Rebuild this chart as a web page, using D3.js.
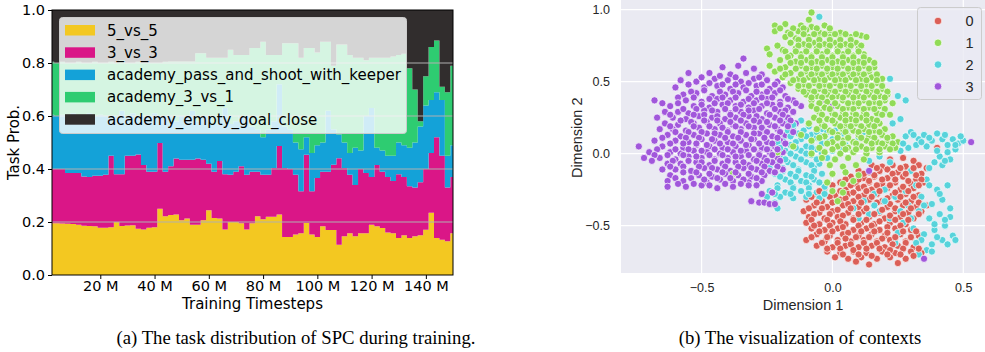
<!DOCTYPE html>
<html>
<head>
<meta charset="utf-8">
<script src="https://cdn.jsdelivr.net/npm/d3@7"></script>
<style>
  body { margin: 0; background: #fff; }
  svg { display: block; }
</style>
</head>
<body>
<svg id="fig" width="985" height="352"></svg>
<script>
// ---- (a) task distribution, one value every 2 M steps ----
const steps = d3.range(2, 151, 2);

const taskNames = ['5_vs_5', '3_vs_3', 'academy_pass_and_shoot_with_keeper',
  'academy_3_vs_1', 'academy_empty_goal_close'];
const taskColors = ['#f3c821', '#da1687', '#14a2d8', '#2ecc71', '#312d2d'];

const vs5 = [
  .195, .195, .194, .193, .192, .190, .186, .185, .184, .178,
  .178, .180, .200, .185, .187, .188, .175, .172, .178, .180,
  .250, .222, .226, .228, .207, .213, .190, .190, .207, .244,
  .215, .213, .172, .200, .200, .195, .172, .195, .222, .210,
  .220, .220, .228, .143, .143, .153, .158, .196, .153, .143,
  .184, .170, .170, .114, .146, .158, .146, .158, .158, .190,
  .184, .177, .160, .158, .140, .150, .140, .146, .150, .171,
  .235, .140, .133, .127, .158];
const vs3 = [
  .205, .205, .206, .192, .193, .195, .186, .185, .191, .197,
  .200, .270, .180, .195, .263, .262, .280, .243, .212, .210,
  .248, .168, .184, .212, .228, .222, .245, .250, .228, .176,
  .175, .217, .208, .178, .190, .215, .206, .195, .168, .168,
  .158, .184, .259, .261, .257, .225, .158, .258, .163, .223,
  .206, .220, .246, .327, .258, .220, .194, .242, .227, .180,
  .231, .213, .210, .197, .240, .220, .195, .184, .200, .229,
  .225, .380, .317, .203, .212];
const passShoot = [
  .205, .200, .205, .215, .225, .215, .228, .240, .225, .230,
  .222, .150, .220, .240, .150, .160, .145, .185, .210, .220,
  .102, .210, .190, .140, .165, .165, .185, .140, .165, .180,
  .180, .170, .250, .192, .190, .190, .222, .170, .160, .142,
  .172, .176, .233, .156, .150, .122, .159, .066, .144, .124,
  .110, .230, .134, .089, .096, .082, .140, .070, .215, .260,
  .065, .080, .080, .095, .120, .120, .145, .170, .210, .240,
  .200, .170, .210, .120, .120];
const threeVsOne = [
  .200, .200, .200, .200, .190, .205, .200, .190, .205, .195,
  .200, .205, .200, .190, .200, .190, .205, .200, .200, .190,
  .200, .205, .206, .226, .206, .206, .186, .257, .237, .220,
  .250, .220, .190, .280, .250, .230, .230, .297, .307, .360,
  .280, .250, .110, .315, .325, .375, .345, .337, .397, .350,
  .380, .260, .240, .340, .370, .370, .340, .350, .210, .190,
  .340, .350, .370, .375, .330, .345, .300, .200, .020, .110,
  .200, .195, .050, .240, .300];
const emptyGoal = [
  .195, .200, .195, .200, .200, .195, .200, .200, .195, .200,
  .200, .195, .200, .190, .200, .200, .195, .200, .200, .200,
  .200, .195, .194, .194, .194, .194, .194, .163, .163, .180,
  .180, .180, .180, .150, .170, .170, .170, .143, .143, .120,
  .170, .170, .170, .125, .125, .125, .180, .143, .143, .160,
  .120, .120, .210, .130, .130, .170, .180, .180, .190, .180,
  .180, .180, .180, .175, .170, .165, .220, .300, .420, .250,
  .140, .115, .290, .310, .210];

const probTicks = [0, 0.2, 0.4, 0.6, 0.8, 1.0];
const stepTicks = [20, 40, 60, 80, 100, 120, 140];

// ---- (b) context embedding, one list per cluster ----
const ctxNames = ['0', '1', '2', '3'];
const ctxColors = ['#db5f57', '#91db57', '#57d3db', '#a157db'];

const ctx0 = [
  [0.40,0.04],
  [0.22,-0.04],[0.27,-0.03],[0.31,-0.05],
  [0.15,-0.08],[0.19,-0.09],[0.23,-0.08],[0.28,-0.09],[0.33,-0.08],[0.36,-0.10],
  [0.10,-0.12],[0.14,-0.13],[0.18,-0.12],[0.25,-0.13],[0.30,-0.12],[0.34,-0.14],
  [0.07,-0.16],[0.12,-0.17],[0.16,-0.16],[0.21,-0.17],[0.27,-0.16],[0.32,-0.18],
  [0.03,-0.20],[0.09,-0.21],[0.14,-0.20],[0.19,-0.21],[0.24,-0.20],[0.30,-0.21],[0.35,-0.20],
  [-0.03,-0.24],[0.05,-0.25],[0.10,-0.24],[0.15,-0.25],[0.21,-0.24],[0.26,-0.25],[0.31,-0.24],
  [-0.06,-0.28],[0.01,-0.29],[0.06,-0.28],[0.12,-0.29],[0.17,-0.28],[0.23,-0.29],[0.28,-0.28],[0.33,-0.29],
  [-0.10,-0.32],[-0.04,-0.33],[0.03,-0.32],[0.08,-0.33],[0.14,-0.32],[0.19,-0.33],[0.25,-0.32],[0.30,-0.33],
  [-0.07,-0.36],[-0.02,-0.37],[0.04,-0.36],[0.10,-0.37],[0.16,-0.36],[0.21,-0.37],[0.27,-0.36],[0.32,-0.37],[0.36,-0.36],
  [-0.11,-0.40],[-0.05,-0.41],[0.00,-0.40],[0.06,-0.41],[0.12,-0.40],[0.18,-0.41],[0.24,-0.40],[0.29,-0.41],[0.34,-0.40],
  [-0.09,-0.44],[-0.03,-0.45],[0.02,-0.44],[0.08,-0.45],[0.14,-0.44],[0.20,-0.45],[0.26,-0.44],[0.31,-0.45],
  [-0.10,-0.48],[-0.05,-0.49],[0.00,-0.48],[0.05,-0.49],[0.11,-0.48],[0.16,-0.49],[0.22,-0.48],[0.28,-0.49],
  [-0.08,-0.52],[-0.03,-0.53],[0.02,-0.52],[0.08,-0.53],[0.13,-0.52],[0.18,-0.53],[0.24,-0.52],[0.30,-0.53],
  [-0.06,-0.56],[-0.01,-0.57],[0.04,-0.56],[0.10,-0.57],[0.15,-0.56],[0.20,-0.57],[0.26,-0.56],[0.33,-0.57],
  [-0.10,-0.60],[-0.03,-0.61],[0.02,-0.60],[0.07,-0.61],[0.12,-0.60],[0.17,-0.61],[0.22,-0.60],[0.28,-0.61],
  [-0.06,-0.64],[0.00,-0.65],[0.05,-0.64],[0.10,-0.65],[0.15,-0.64],[0.20,-0.65],[0.25,-0.64],[0.31,-0.65],
  [-0.02,-0.68],[0.03,-0.69],[0.08,-0.68],[0.13,-0.69],[0.19,-0.68],[0.24,-0.69],[0.30,-0.68],[0.34,-0.69],
  [0.01,-0.72],[0.06,-0.73],[0.11,-0.72],[0.17,-0.73],[0.22,-0.72],[0.28,-0.73],
  [0.09,-0.75],[0.14,-0.77],[0.25,-0.76],
  [0.17,-0.10],[0.21,-0.11],[0.26,-0.10],[0.31,-0.10],
  [0.12,-0.14],[0.16,-0.15],[0.23,-0.14],[0.28,-0.14],[0.32,-0.15],
  [0.05,-0.18],[0.10,-0.18],[0.14,-0.19],[0.19,-0.18],[0.24,-0.18],[0.29,-0.19],[0.34,-0.18],
  [0.00,-0.22],[0.07,-0.22],[0.12,-0.23],[0.17,-0.22],[0.22,-0.22],[0.27,-0.23],[0.33,-0.22],
  [-0.05,-0.26],[0.03,-0.26],[0.08,-0.27],[0.13,-0.26],[0.18,-0.26],[0.24,-0.27],[0.29,-0.26],
  [-0.08,-0.30],[-0.01,-0.30],[0.05,-0.31],[0.10,-0.30],[0.15,-0.30],[0.21,-0.31],[0.26,-0.30],[0.31,-0.30],
  [-0.06,-0.34],[0.00,-0.34],[0.06,-0.35],[0.11,-0.34],[0.17,-0.34],[0.22,-0.35],[0.28,-0.34],[0.33,-0.34],
  [-0.09,-0.38],[-0.04,-0.38],[0.02,-0.39],[0.07,-0.38],[0.13,-0.38],[0.19,-0.39],[0.24,-0.38],[0.30,-0.38],
  [-0.07,-0.42],[-0.01,-0.42],[0.04,-0.43],[0.10,-0.42],[0.16,-0.42],[0.22,-0.43],[0.27,-0.42],[0.33,-0.42],
  [-0.08,-0.46],[-0.02,-0.46],[0.03,-0.47],[0.08,-0.46],[0.13,-0.46],[0.18,-0.47],[0.24,-0.46],[0.29,-0.46],
  [-0.07,-0.50],[-0.01,-0.50],[0.04,-0.51],[0.10,-0.50],[0.15,-0.50],[0.21,-0.51],[0.26,-0.50],
  [-0.05,-0.54],[0.00,-0.54],[0.06,-0.55],[0.11,-0.54],[0.16,-0.54],[0.21,-0.55],[0.27,-0.54],[0.32,-0.54],
  [-0.08,-0.58],[-0.02,-0.58],[0.05,-0.59],[0.09,-0.58],[0.14,-0.58],[0.19,-0.59],[0.24,-0.58],[0.30,-0.58],
  [-0.04,-0.62],[0.02,-0.62],[0.07,-0.63],[0.12,-0.62],[0.17,-0.62],[0.23,-0.63],[0.28,-0.62],
  [-0.02,-0.66],[0.03,-0.66],[0.08,-0.67],[0.13,-0.66],[0.18,-0.66],[0.22,-0.67],[0.27,-0.66],[0.33,-0.66],
  [0.04,-0.70],[0.10,-0.70],[0.15,-0.71],[0.21,-0.70],[0.26,-0.70],[0.31,-0.71]
];
const ctx1 = [
  [-0.08,0.98],[-0.09,0.93],
  [-0.22,0.89],[-0.18,0.90],[-0.12,0.89],[-0.08,0.88],[-0.03,0.89],
  [-0.22,0.85],[-0.17,0.84],[-0.13,0.85],[-0.10,0.86],[-0.05,0.84],[-0.01,0.85],[0.03,0.84],
  [-0.18,0.81],[-0.14,0.80],[-0.09,0.81],[-0.05,0.80],[-0.01,0.81],[0.03,0.80],[0.07,0.81],[0.11,0.82],[0.13,0.81],
  [-0.16,0.77],[-0.11,0.76],[-0.07,0.77],[-0.03,0.76],[0.01,0.77],[0.05,0.76],[0.09,0.77],
  [-0.25,0.73],[-0.19,0.72],[-0.14,0.73],[-0.10,0.72],[-0.06,0.73],[-0.02,0.72],[0.02,0.73],[0.06,0.72],[0.10,0.73],
  [-0.24,0.69],[-0.16,0.68],[-0.12,0.69],[-0.08,0.68],[-0.04,0.69],[0.00,0.68],[0.04,0.69],[0.08,0.68],[0.12,0.69],
  [-0.20,0.65],[-0.14,0.64],[-0.10,0.65],[-0.06,0.64],[-0.02,0.65],[0.02,0.64],[0.06,0.65],[0.10,0.64],[0.14,0.65],
  [-0.24,0.61],[-0.18,0.60],[-0.12,0.61],[-0.08,0.60],[-0.04,0.61],[0.00,0.60],[0.04,0.61],[0.08,0.60],[0.12,0.61],[0.16,0.60],
  [-0.22,0.57],[-0.16,0.56],[-0.10,0.57],[-0.06,0.56],[-0.02,0.57],[0.02,0.56],[0.06,0.57],[0.10,0.56],[0.14,0.57],
  [-0.19,0.53],[-0.13,0.52],[-0.09,0.53],[-0.05,0.52],[-0.01,0.53],[0.03,0.52],[0.07,0.53],[0.11,0.52],[0.15,0.53],[0.19,0.52],
  [-0.16,0.49],[-0.11,0.48],[-0.07,0.49],[-0.03,0.48],[0.01,0.49],[0.05,0.48],[0.09,0.49],[0.13,0.48],[0.17,0.49],
  [-0.13,0.45],[-0.09,0.44],[-0.05,0.45],[-0.01,0.44],[0.03,0.45],[0.07,0.44],[0.11,0.45],[0.15,0.44],[0.19,0.45],
  [-0.10,0.41],[-0.06,0.40],[-0.02,0.41],[0.02,0.40],[0.06,0.41],[0.10,0.40],[0.14,0.41],[0.18,0.40],[0.21,0.41],
  [-0.08,0.37],[-0.02,0.36],[0.04,0.37],[0.08,0.36],[0.12,0.37],[0.16,0.36],[0.20,0.37],
  [-0.08,0.33],[-0.03,0.32],[0.02,0.33],[0.06,0.32],[0.10,0.33],[0.14,0.32],[0.18,0.33],
  [-0.05,0.29],[0.00,0.28],[0.04,0.29],[0.08,0.28],[0.12,0.29],[0.17,0.28],[0.22,0.27],
  [-0.07,0.25],[-0.02,0.24],[0.03,0.25],[0.07,0.24],[0.11,0.25],[0.15,0.24],
  [-0.09,0.21],[-0.04,0.20],[0.01,0.21],[0.05,0.20],[0.09,0.21],[0.14,0.20],[0.18,0.21],
  [-0.06,0.17],[-0.01,0.16],[0.04,0.17],[0.08,0.16],[0.12,0.17],[0.16,0.16],[0.20,0.17],
  [-0.12,0.13],[-0.03,0.12],[0.02,0.13],[0.06,0.12],[0.10,0.13],[0.14,0.12],[0.19,0.13],[0.23,0.12],
  [-0.08,0.09],[0.00,0.08],[0.04,0.09],[0.08,0.08],[0.13,0.09],[0.17,0.08],[0.21,0.09],[0.25,0.08],
  [-0.15,0.05],[-0.05,0.04],[0.02,0.05],[0.06,0.04],[0.11,0.05],[0.15,0.04],[0.20,0.05],[0.24,0.04],
  [-0.21,0.01],[-0.08,0.00],[-0.03,0.01],[0.03,0.00],[0.08,0.01],[0.13,0.00],[0.18,0.01],
  [-0.04,-0.03],[0.01,-0.04],[0.06,-0.03],[0.12,-0.04],
  [-0.01,-0.08],[0.04,-0.09],[0.09,-0.08],
  [0.00,-0.14],[0.05,-0.13],[0.10,-0.15],
  [-0.02,-0.20],[0.04,-0.21],[0.08,-0.19],
  [0.00,-0.26],[0.04,-0.27],[0.02,-0.33],[-0.38,-0.14],
  [-0.20,0.87],[-0.15,0.87],[-0.11,0.87],[-0.06,0.87],[-0.01,0.87],
  [-0.16,0.83],[-0.11,0.83],[-0.07,0.83],[-0.03,0.83],[0.01,0.83],[0.05,0.83],[0.09,0.83],
  [-0.13,0.79],[-0.09,0.79],[-0.05,0.79],[-0.01,0.79],[0.03,0.79],[0.07,0.79],
  [-0.21,0.75],[-0.13,0.75],[-0.09,0.75],[-0.05,0.75],[-0.01,0.75],[0.03,0.75],[0.07,0.75],[0.11,0.75],
  [-0.18,0.71],[-0.14,0.71],[-0.10,0.71],[-0.06,0.71],[-0.02,0.71],[0.02,0.71],[0.06,0.71],[0.10,0.71],
  [-0.17,0.67],[-0.12,0.67],[-0.08,0.67],[-0.04,0.67],[0.00,0.67],[0.04,0.67],[0.08,0.67],[0.12,0.67],
  [-0.16,0.63],[-0.12,0.63],[-0.08,0.63],[-0.04,0.63],[0.00,0.63],[0.04,0.63],[0.08,0.63],[0.12,0.63],[0.16,0.63],
  [-0.20,0.59],[-0.14,0.59],[-0.10,0.59],[-0.06,0.59],[-0.02,0.59],[0.02,0.59],[0.06,0.59],[0.10,0.59],[0.14,0.59],
  [-0.18,0.55],[-0.12,0.55],[-0.08,0.55],[-0.04,0.55],[0.00,0.55],[0.04,0.55],[0.08,0.55],[0.12,0.55],[0.17,0.55],
  [-0.15,0.51],[-0.11,0.51],[-0.07,0.51],[-0.03,0.51],[0.01,0.51],[0.05,0.51],[0.09,0.51],[0.13,0.51],[0.17,0.51],
  [-0.13,0.47],[-0.09,0.47],[-0.05,0.47],[-0.01,0.47],[0.03,0.47],[0.07,0.47],[0.11,0.47],[0.15,0.47],[0.19,0.47],
  [-0.11,0.43],[-0.07,0.43],[-0.03,0.43],[0.01,0.43],[0.05,0.43],[0.09,0.43],[0.13,0.43],[0.17,0.43],[0.21,0.43],
  [-0.08,0.39],[-0.04,0.39],[0.00,0.39],[0.04,0.39],[0.08,0.39],[0.12,0.39],[0.16,0.39],[0.20,0.39],
  [-0.05,0.35],[0.01,0.35],[0.06,0.35],[0.10,0.35],[0.14,0.35],[0.18,0.35],[0.23,0.35],
  [-0.06,0.31],[-0.01,0.31],[0.04,0.31],[0.08,0.31],[0.12,0.31],[0.16,0.31],[0.20,0.31],
  [-0.04,0.27],[0.01,0.27],[0.05,0.27],[0.09,0.27],[0.13,0.27],[0.19,0.27],
  [-0.05,0.23],[0.00,0.23],[0.05,0.23],[0.09,0.23],[0.13,0.23],[0.17,0.23],
  [-0.03,0.19],[0.03,0.19],[0.07,0.19],[0.11,0.19],[0.16,0.19],
  [0.00,0.15],[0.05,0.15],[0.10,0.15],[0.14,0.15],[0.18,0.15],
  [-0.05,0.11],[0.02,0.11],[0.06,0.11],[0.11,0.11],[0.16,0.11],[0.21,0.11],
  [-0.02,0.07],[0.04,0.07],[0.09,0.07],[0.15,0.07],[0.19,0.07],[0.23,0.07],
  [0.00,0.03],[0.05,0.03],[0.09,0.03],[0.13,0.03],[0.18,0.03],[0.22,0.03]
];
const ctx2 = [
  [-0.05,0.95],[0.22,0.52],[0.25,0.40],[0.28,0.37],[0.20,0.30],[0.23,0.21],[0.18,0.27],[0.26,0.24],
  [-0.18,0.22],[-0.12,0.23],
  [-0.15,0.18],[-0.09,0.19],[-0.04,0.17],[0.06,0.18],
  [-0.20,0.14],[-0.13,0.14],[-0.08,0.13],[-0.02,0.15],[0.04,0.14],[0.12,0.15],
  [-0.19,0.10],[-0.12,0.10],[-0.06,0.11],[0.00,0.10],[0.10,0.11],
  [-0.23,0.06],[-0.16,0.06],[-0.10,0.05],[-0.04,0.07],[0.05,0.06],
  [-0.18,0.02],[-0.12,0.02],[-0.06,0.03],[0.00,0.02],
  [-0.20,-0.02],[-0.14,-0.02],[-0.08,-0.01],[-0.02,-0.03],
  [-0.17,-0.06],[-0.10,-0.06],[-0.05,-0.07],
  [-0.24,-0.10],[-0.19,-0.10],[-0.13,-0.11],[-0.07,-0.10],
  [-0.22,-0.14],[-0.16,-0.14],[-0.10,-0.15],[-0.04,-0.14],
  [-0.18,-0.18],[-0.12,-0.19],[-0.07,-0.18],
  [-0.21,-0.22],[-0.15,-0.23],[-0.09,-0.22],[-0.03,-0.23],
  [-0.24,-0.26],[-0.18,-0.27],[-0.12,-0.26],[-0.06,-0.27],
  [-0.25,-0.30],[-0.20,-0.30],[-0.15,-0.31],[-0.10,-0.30],[-0.05,-0.31],
  [-0.22,-0.34],[-0.21,-0.38],
  [0.14,-0.05],[0.18,-0.02],[0.22,-0.06],[0.26,-0.10],[0.30,-0.12],
  [0.28,0.12],[0.30,0.15],[0.33,0.10],[0.35,0.13],[0.38,0.09],[0.40,0.14],[0.42,0.10],[0.44,0.06],
  [0.46,0.10],[0.48,0.07],[0.50,0.09],[0.47,0.03],[0.44,0.01],[0.41,-0.02],[0.39,-0.06],[0.42,-0.08],
  [0.45,-0.04],[0.36,0.05],[0.32,0.06],[0.29,0.04],[0.26,0.02],[0.23,0.08],[0.37,-0.10],[0.49,0.12],
  [0.44,-0.22],[0.40,-0.25],[0.36,-0.18],[0.32,-0.22],[0.42,-0.32],[0.38,-0.35],[0.34,-0.30],[0.45,-0.38],
  [0.41,-0.42],[0.37,-0.45],[0.33,-0.40],[0.29,-0.36],[0.43,-0.50],[0.39,-0.53],[0.35,-0.56],[0.31,-0.52],
  [0.27,-0.48],[0.46,-0.57],[0.42,-0.60],[0.38,-0.63],[0.34,-0.60],[0.30,-0.58],[0.36,-0.67],[0.25,-0.55],
  [0.22,-0.45],[0.18,-0.40],[0.14,-0.42],[0.10,-0.45],[0.24,-0.30],[0.20,-0.25],[0.16,-0.28],[0.12,-0.33],
  [0.08,-0.38],[0.28,-0.26],[0.47,-0.60],[0.45,-0.44],[0.24,-0.62],
  [-0.15,0.20],[-0.09,0.21],
  [-0.17,0.16],[-0.11,0.16],[-0.06,0.15],[0.01,0.16],
  [-0.16,0.12],[-0.10,0.12],[-0.04,0.12],[0.02,0.12],
  [-0.21,0.08],[-0.14,0.08],[-0.08,0.08],[-0.02,0.08],
  [-0.20,0.04],[-0.14,0.04],[-0.08,0.04],[0.03,0.04],
  [-0.16,0.00],[-0.10,0.00],[-0.04,0.00],
  [-0.18,-0.04],[-0.12,-0.04],[-0.06,-0.04],
  [-0.21,-0.08],[-0.15,-0.08],[-0.08,-0.08],
  [-0.19,-0.12],[-0.13,-0.12],[-0.07,-0.12],
  [-0.20,-0.16],[-0.14,-0.16],[-0.08,-0.16],
  [-0.16,-0.20],[-0.10,-0.20],[-0.05,-0.20],
  [-0.21,-0.24],[-0.15,-0.24],[-0.09,-0.24],
  [-0.22,-0.28],[-0.16,-0.28],[-0.09,-0.28],[-0.03,-0.28],
  [0.31,0.13],[0.37,0.11],[0.43,0.13],[0.47,0.06],[0.40,0.02],[0.34,0.08],[0.43,-0.05],[0.27,0.07],
  [0.41,-0.28],[0.37,-0.22],[0.43,-0.46],[0.39,-0.49],[0.40,-0.58],[0.44,-0.63],[0.32,-0.62],
  [0.35,-0.36],[0.30,-0.45],[0.26,-0.40],[0.20,-0.33],[0.16,-0.36],[0.38,-0.68],[0.33,-0.70]
];
const ctx3 = [
  [-0.34,0.66],
  [-0.42,0.60],[-0.36,0.61],[-0.30,0.59],
  [-0.55,0.56],[-0.47,0.56],[-0.39,0.55],[-0.33,0.56],[-0.27,0.55],
  [-0.58,0.51],[-0.52,0.50],[-0.45,0.52],[-0.40,0.51],[-0.35,0.50],[-0.30,0.52],[-0.25,0.51],[-0.21,0.50],
  [-0.60,0.46],[-0.49,0.46],[-0.44,0.47],[-0.39,0.45],[-0.34,0.46],[-0.29,0.47],[-0.24,0.45],[-0.19,0.46],
  [-0.57,0.41],[-0.52,0.42],[-0.46,0.40],[-0.41,0.41],[-0.36,0.42],[-0.31,0.40],[-0.27,0.41],[-0.22,0.42],[-0.18,0.40],
  [-0.68,0.37],[-0.56,0.37],[-0.50,0.36],[-0.44,0.38],[-0.39,0.37],[-0.34,0.36],[-0.29,0.37],[-0.25,0.38],[-0.20,0.36],[-0.15,0.37],[-0.04,0.37],
  [-0.62,0.33],[-0.53,0.33],[-0.47,0.32],[-0.42,0.34],[-0.37,0.33],[-0.32,0.32],[-0.27,0.33],[-0.23,0.34],[-0.17,0.32],[-0.12,0.33],[0.00,0.33],
  [-0.64,0.29],[-0.59,0.29],[-0.55,0.28],[-0.49,0.30],[-0.44,0.29],[-0.39,0.28],[-0.35,0.29],[-0.30,0.30],[-0.25,0.28],[-0.20,0.29],[-0.15,0.29],
  [-0.67,0.25],[-0.61,0.25],[-0.56,0.24],[-0.51,0.26],[-0.46,0.25],[-0.41,0.24],[-0.37,0.25],[-0.32,0.26],[-0.27,0.24],[-0.22,0.25],[-0.17,0.25],
  [-0.64,0.21],[-0.59,0.20],[-0.53,0.21],[-0.48,0.22],[-0.43,0.21],[-0.38,0.20],[-0.33,0.21],[-0.28,0.22],[-0.24,0.20],[-0.19,0.21],[-0.14,0.21],
  [-0.66,0.17],[-0.61,0.17],[-0.56,0.16],[-0.51,0.18],[-0.45,0.17],[-0.40,0.16],[-0.35,0.17],[-0.30,0.18],[-0.26,0.16],[-0.21,0.17],[-0.16,0.17],
  [-0.63,0.13],[-0.58,0.12],[-0.53,0.13],[-0.48,0.14],[-0.43,0.13],[-0.38,0.12],[-0.33,0.13],[-0.28,0.14],[-0.23,0.12],[-0.18,0.13],
  [-0.68,0.09],[-0.60,0.09],[-0.55,0.08],[-0.50,0.10],[-0.45,0.09],[-0.40,0.08],[-0.35,0.09],[-0.30,0.10],[-0.25,0.08],[-0.20,0.09],
  [-0.74,0.05],[-0.65,0.05],[-0.57,0.04],[-0.52,0.06],[-0.47,0.05],[-0.42,0.04],[-0.37,0.05],[-0.32,0.06],[-0.27,0.04],[-0.22,0.05],
  [-0.70,0.01],[-0.62,0.01],[-0.58,0.00],[-0.53,0.02],[-0.48,0.01],[-0.43,0.00],[-0.38,0.01],[-0.33,0.02],[-0.28,0.00],[-0.24,0.01],[-0.19,0.01],
  [-0.72,-0.03],[-0.66,-0.03],[-0.60,-0.04],[-0.55,-0.02],[-0.50,-0.03],[-0.45,-0.04],[-0.40,-0.03],[-0.35,-0.02],[-0.30,-0.04],[-0.26,-0.03],[-0.21,-0.03],
  [-0.63,-0.07],[-0.58,-0.07],[-0.52,-0.06],[-0.47,-0.08],[-0.42,-0.07],[-0.37,-0.06],[-0.32,-0.08],[-0.27,-0.07],[-0.23,-0.06],
  [-0.65,-0.11],[-0.60,-0.11],[-0.54,-0.12],[-0.49,-0.10],[-0.44,-0.11],[-0.39,-0.12],[-0.34,-0.10],[-0.29,-0.11],[-0.24,-0.12],[-0.19,-0.11],
  [-0.62,-0.15],[-0.51,-0.15],[-0.46,-0.16],[-0.41,-0.14],[-0.36,-0.15],[-0.31,-0.16],[-0.26,-0.15],
  [-0.63,-0.19],[-0.57,-0.19],[-0.48,-0.20],[-0.43,-0.18],[-0.38,-0.19],[-0.32,-0.20],[-0.27,-0.19],
  [-0.63,-0.23],[-0.56,-0.23],[-0.50,-0.22],[-0.44,-0.24],[-0.38,-0.23],[-0.32,-0.22],
  [-0.27,-0.28],[-0.23,-0.27],
  [-0.31,-0.33],[-0.28,-0.34],[-0.26,-0.34],[-0.24,-0.35],[-0.22,-0.35],
  [0.14,-0.12],[0.35,-0.73],[0.53,0.08],
  [-0.50,0.53],[-0.43,0.54],[-0.37,0.53],[-0.28,0.53],
  [-0.55,0.48],[-0.47,0.49],[-0.42,0.48],[-0.37,0.48],[-0.32,0.49],[-0.27,0.48],[-0.22,0.48],
  [-0.54,0.43],[-0.49,0.44],[-0.43,0.43],[-0.38,0.43],[-0.33,0.44],[-0.29,0.43],[-0.25,0.43],[-0.20,0.44],
  [-0.59,0.39],[-0.53,0.39],[-0.47,0.38],[-0.42,0.39],[-0.37,0.39],[-0.32,0.38],[-0.27,0.39],[-0.23,0.39],[-0.17,0.38],
  [-0.65,0.35],[-0.59,0.35],[-0.50,0.34],[-0.45,0.35],[-0.40,0.35],[-0.35,0.34],[-0.30,0.35],[-0.25,0.35],[-0.20,0.34],[-0.14,0.35],
  [-0.57,0.31],[-0.52,0.31],[-0.46,0.30],[-0.41,0.31],[-0.37,0.31],[-0.32,0.30],[-0.28,0.31],[-0.22,0.31],[-0.18,0.30],
  [-0.62,0.27],[-0.53,0.27],[-0.49,0.27],[-0.44,0.26],[-0.39,0.27],[-0.34,0.27],[-0.29,0.26],[-0.24,0.27],[-0.19,0.27],
  [-0.58,0.23],[-0.54,0.22],[-0.49,0.23],[-0.44,0.23],[-0.39,0.22],[-0.35,0.23],[-0.30,0.23],[-0.25,0.22],[-0.20,0.23],[-0.16,0.23],
  [-0.62,0.19],[-0.53,0.19],[-0.47,0.19],[-0.42,0.18],[-0.37,0.19],[-0.32,0.19],[-0.27,0.18],[-0.22,0.19],[-0.17,0.19],
  [-0.60,0.15],[-0.55,0.15],[-0.50,0.15],[-0.45,0.14],[-0.40,0.15],[-0.35,0.15],[-0.30,0.14],[-0.25,0.15],[-0.20,0.15],[-0.15,0.15],
  [-0.65,0.11],[-0.56,0.11],[-0.51,0.11],[-0.46,0.10],[-0.41,0.11],[-0.36,0.11],[-0.31,0.10],[-0.26,0.11],[-0.21,0.11],
  [-0.62,0.07],[-0.57,0.07],[-0.52,0.07],[-0.48,0.06],[-0.43,0.07],[-0.38,0.07],[-0.33,0.06],[-0.28,0.07],[-0.23,0.07],[-0.18,0.07],
  [-0.67,0.03],[-0.60,0.03],[-0.55,0.03],[-0.50,0.02],[-0.45,0.03],[-0.40,0.03],[-0.35,0.02],[-0.30,0.03],[-0.25,0.03],[-0.21,0.03],
  [-0.68,-0.01],[-0.63,-0.01],[-0.57,-0.01],[-0.52,-0.02],[-0.47,-0.01],[-0.42,-0.01],[-0.37,-0.02],[-0.32,-0.01],[-0.28,-0.01],[-0.23,-0.01],
  [-0.69,-0.05],[-0.61,-0.05],[-0.55,-0.05],[-0.50,-0.06],[-0.45,-0.05],[-0.40,-0.05],[-0.34,-0.06],[-0.29,-0.05],[-0.25,-0.05],[-0.20,-0.05],
  [-0.62,-0.09],[-0.57,-0.09],[-0.51,-0.09],[-0.46,-0.10],[-0.41,-0.09],[-0.36,-0.09],[-0.31,-0.10],[-0.26,-0.09],[-0.21,-0.09],
  [-0.57,-0.13],[-0.52,-0.13],[-0.47,-0.14],[-0.42,-0.13],[-0.37,-0.13],[-0.32,-0.14],[-0.27,-0.13],[-0.22,-0.13],
  [-0.60,-0.17],[-0.54,-0.17],[-0.49,-0.18],[-0.44,-0.17],[-0.39,-0.17],[-0.34,-0.18],[-0.29,-0.17],
  [-0.59,-0.21],[-0.53,-0.21],[-0.47,-0.22],[-0.41,-0.21],[-0.35,-0.21],[-0.29,-0.22]
];

const dimTicksX = [-0.5, 0.0, 0.5];
const dimTicksY = [-0.5, 0.0, 0.5, 1.0];

const svg = d3.select('#fig');

// ================= (a) stacked area =================
const A = { left: 52, right: 453, top: 10, bottom: 275 };
const xA = d3.scaleLinear().domain([2.2, 150]).range([A.left, A.right]);
const yA = d3.scaleLinear().domain([0, 1]).range([A.bottom, A.top]);

const table = steps.map((t, i) => {
  const row = { t };
  [vs5, vs3, passShoot, threeVsOne, emptyGoal].forEach((s, j) => { row[taskNames[j]] = s[i]; });
  return row;
});
const layers = d3.stack().keys(taskNames)(table);

svg.append('clipPath').attr('id', 'clipA')
  .append('rect')
  .attr('x', A.left).attr('y', A.top)
  .attr('width', A.right - A.left).attr('height', A.bottom - A.top);

const area = d3.area()
  .curve(d3.curveStep)
  .x((d) => xA(d.data.t))
  .y0((d) => yA(d[0]))
  .y1((d) => yA(d[1]));

svg.append('g')
  .attr('clip-path', 'url(#clipA)')
  .selectAll('path')
  .data(layers)
  .enter()
    .append('path')
    .attr('fill', (d, i) => taskColors[i])
    .attr('d', area);

// horizontal grid on top of the areas
svg.append('g')
  .selectAll('line')
  .data(probTicks.slice(1, -1))
  .enter()
    .append('line')
    .attr('x1', A.left).attr('x2', A.right)
    .attr('y1', (d) => yA(d)).attr('y2', (d) => yA(d))
    .attr('stroke', '#b0b0b0')
    .attr('stroke-width', 1);

const fontA = 'DejaVu Sans, sans-serif';

const axA_x = svg.append('g')
  .attr('transform', `translate(0,${A.bottom})`)
  .call(d3.axisBottom(xA).tickValues(stepTicks).tickFormat((d) => d + ' M')
    .tickSizeInner(4).tickSizeOuter(0).tickPadding(2));
const axA_y = svg.append('g')
  .attr('transform', `translate(${A.left},0)`)
  .call(d3.axisLeft(yA).tickValues(probTicks).tickFormat(d3.format('.1f'))
    .tickSizeInner(4).tickSizeOuter(0).tickPadding(3));
[axA_x, axA_y].forEach((ax) => {
  ax.select('.domain').remove();
  ax.selectAll('text').attr('font-family', fontA).attr('font-size', 14.5).attr('fill', '#000');
  ax.selectAll('line').attr('stroke', '#000');
});

svg.append('rect')
  .attr('x', A.left).attr('y', A.top)
  .attr('width', A.right - A.left).attr('height', A.bottom - A.top)
  .attr('fill', 'none').attr('stroke', '#000').attr('stroke-width', 1);

svg.append('text')
  .attr('x', (A.left + A.right) / 2).attr('y', 309)
  .attr('text-anchor', 'middle')
  .attr('font-family', fontA).attr('font-size', 15)
  .text('Training Timesteps');

svg.append('text')
  .attr('transform', `translate(19,${(A.top + A.bottom) / 2}) rotate(-90)`)
  .attr('text-anchor', 'middle')
  .attr('font-family', fontA).attr('font-size', 15)
  .text('Task Prob.');

// legend
const legA = svg.append('g').attr('transform', 'translate(59.5,17.5)');
legA.append('rect')
  .attr('width', 347).attr('height', 116).attr('rx', 3)
  .attr('fill', '#fff').attr('fill-opacity', 0.8)
  .attr('stroke', '#cccccc').attr('stroke-width', 1);
const legARow = legA.selectAll('g.row')
  .data(taskNames)
  .enter()
    .append('g')
    .attr('class', 'row')
    .attr('transform', (d, i) => `translate(0,${12.5 + i * 22.3})`);
legARow.append('rect')
  .attr('x', 5.5).attr('y', -5).attr('width', 30).attr('height', 10.5)
  .attr('fill', (d, i) => taskColors[i]);
legARow.append('text')
  .attr('x', 47.5).attr('y', 5.5)
  .attr('font-family', fontA).attr('font-size', 15)
  .text((d) => d);

// ================= (b) scatter =================
const B = { left: 621, right: 985, top: 0, bottom: 273 };
const xB = d3.scaleLinear().domain([-0.808, 0.583]).range([B.left, B.right]);
const yB = d3.scaleLinear().domain([-0.829, 1.067]).range([B.bottom, B.top]);
const fontB = 'Liberation Sans, Arial, sans-serif';

svg.append('rect')
  .attr('x', B.left).attr('y', B.top)
  .attr('width', B.right - B.left).attr('height', B.bottom - B.top)
  .attr('fill', '#eaeaf2');

svg.append('g')
  .selectAll('line')
  .data(dimTicksX)
  .enter()
    .append('line')
    .attr('x1', (d) => xB(d)).attr('x2', (d) => xB(d))
    .attr('y1', B.top).attr('y2', B.bottom)
    .attr('stroke', '#fff').attr('stroke-width', 1.2);
svg.append('g')
  .selectAll('line')
  .data(dimTicksY)
  .enter()
    .append('line')
    .attr('x1', B.left).attr('x2', B.right)
    .attr('y1', (d) => yB(d)).attr('y2', (d) => yB(d))
    .attr('stroke', '#fff').attr('stroke-width', 1.2);

// interleave clusters so the colours overlap like the original draw order
const clusters = [ctx0, ctx1, ctx2, ctx3];
const points = [];
const longest = d3.max(clusters, (c) => c.length);
for (let i = 0; i < longest; i++) {
  clusters.forEach((c, k) => { if (i < c.length) points.push({ p: c[i], k }); });
}

svg.append('g')
  .selectAll('circle')
  .data(points)
  .enter()
    .append('circle')
    .attr('cx', (d) => xB(d.p[0]))
    .attr('cy', (d) => yB(d.p[1]))
    .attr('r', 3.6)
    .attr('fill', (d) => ctxColors[d.k])
    .attr('stroke', '#fff')
    .attr('stroke-width', 0.7);

const axB_x = svg.append('g')
  .attr('transform', `translate(0,${B.bottom})`)
  .call(d3.axisBottom(xB).tickValues(dimTicksX).tickFormat(d3.format('.1f'))
    .tickSize(0).tickPadding(10));
const axB_y = svg.append('g')
  .attr('transform', `translate(${B.left},0)`)
  .call(d3.axisLeft(yB).tickValues(dimTicksY).tickFormat(d3.format('.1f'))
    .tickSize(0).tickPadding(11));
[axB_x, axB_y].forEach((ax) => {
  ax.select('.domain').remove();
  ax.selectAll('text').attr('font-family', fontB).attr('font-size', 12.5).attr('fill', '#262626');
});

svg.append('text')
  .attr('x', (B.left + B.right) / 2).attr('y', 310)
  .attr('text-anchor', 'middle')
  .attr('font-family', fontB).attr('font-size', 14.5).attr('fill', '#262626')
  .text('Dimension 1');

svg.append('text')
  .attr('transform', `translate(582,${yB(0.11)}) rotate(-90)`)
  .attr('text-anchor', 'middle')
  .attr('font-family', fontB).attr('font-size', 14.5).attr('fill', '#262626')
  .text('Dimension 2');

const legB = svg.append('g').attr('transform', 'translate(917.5,7.5)');
legB.append('rect')
  .attr('width', 64).attr('height', 92).attr('rx', 3)
  .attr('fill', '#eaeaf2').attr('fill-opacity', 0.8)
  .attr('stroke', '#cccccc').attr('stroke-width', 1);
const legBRow = legB.selectAll('g.row')
  .data(ctxNames)
  .enter()
    .append('g')
    .attr('class', 'row')
    .attr('transform', (d, i) => `translate(0,${13.5 + i * 21.8})`);
legBRow.append('circle')
  .attr('cx', 20.5).attr('r', 3.8)
  .attr('fill', (d, i) => ctxColors[i])
  .attr('stroke', '#fff').attr('stroke-width', 0.7);
legBRow.append('text')
  .attr('x', 52).attr('y', 5.2)
  .attr('text-anchor', 'middle')
  .attr('font-family', fontB).attr('font-size', 14.5).attr('fill', '#262626')
  .text((d) => d);

// ================= captions =================
const fontCap = 'Liberation Serif, Times New Roman, serif';
svg.append('text')
  .attr('x', 296).attr('y', 344)
  .attr('text-anchor', 'middle')
  .attr('font-family', fontCap).attr('font-size', 18.7)
  .text('(a) The task distribution of SPC during training.');
svg.append('text')
  .attr('x', 800).attr('y', 344)
  .attr('text-anchor', 'middle')
  .attr('font-family', fontCap).attr('font-size', 18.7)
  .text('(b) The visualization of contexts');
</script>
</body>
</html>
